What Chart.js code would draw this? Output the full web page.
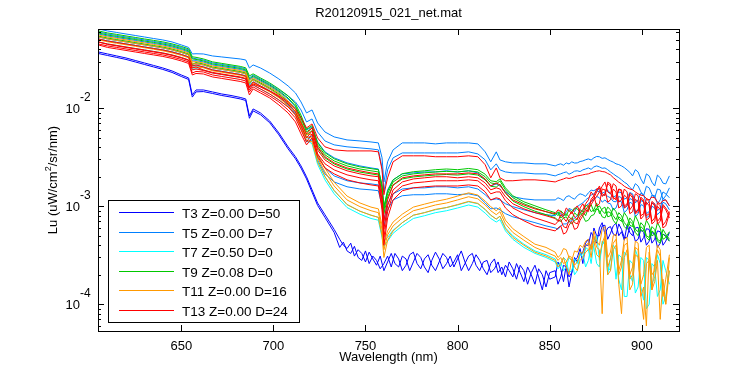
<!DOCTYPE html>
<html><head><meta charset="utf-8">
<script src="https://cdn.jsdelivr.net/npm/chart.js"></script>
<style>html,body{margin:0;padding:0;background:#fff;}canvas{display:block;}</style>
</head><body>
<canvas id="c" width="750" height="375"></canvas>
<script>
// radiance values are in units of 1e-5 uW/cm^2/sr/nm
const UNIT = 1e-5;
// wavelength grid (nm) shared by T5..T13 spectra
const WAVELENGTH = [605,610,615,620,625,630,635,640,645,650,
654,656,658,662,667,672,677,682,685,687,
689,693,698,703,708,712,715,718,721,724,
728,733,740,747,753,757,759,760,762,765,
770,776,782,788,794,800,806,811,815,818,
821,823,826,830,836,842,848,
853,854.5,856,857.5,859,860.5,862,863.5,865,866.5,
868,869.5,871,872.5,874,875.5,877,878.5,880,881.5,
883,884.5,886,887.5,889,890.5,892,893.5,895,896.5,
898,899.5,901,902.5,904,905.5,907,908.5,910,911.5,
913,915];
// wavelength grid (nm) for the noisier T3 spectra
const WAVELENGTH_T3 = [605,610,615,620,625,630,635,640,645,650,
654,656,658,662,667,672,677,682,685,687,
689,693,698,703,708,712,715,718,721,724,
728,733,
736,738,740,742,744,746,748,750,752,754,
756,758,760,762,764,766,768,770,772,774,
776,778,780,782,784,786,788,790,792,794,
796,798,800,802,804,806,808,810,812,814,
816,818,820,822,824,826,828,830,832,834,
836,838,840,842,844,846,848,850,
853,854.5,856,857.5,859,860.5,862,863.5,865,866.5,
868,869.5,871,872.5,874,875.5,877,878.5,880,881.5,
883,884.5,886,887.5,889,890.5,892,893.5,895,896.5,
898,899.5,901,902.5,904,905.5,907,908.5,910,911.5,
913,915];

const T3a = [3754,3582,3418,3261,3075,2900,2735,2578,2403,2187,
2038,1367,1537,1537,1467,1399,1350,1290,1245,835,
984,896,742,560,404,320,258,200,147,108,
82,58,
46,40,37,42,31,36,33,27,34,29,
25,31,22,27,33,26,24,31,29,22,
27,33,30,24,21,28,34,29,23,26,
31,24,29,35,27,22,26,32,28,23,
20,26,29,21,24,19,27,23,18,25,
22,16,21,25,19,14,22,18,
19,27,23,17,25,19,21,30,27,32,
34,42,46,37,60,50,50,63,64,46,
53,63,67,50,55,45,64,54,50,60,
61,43,48,59,58,42,46,56,55,40,
44,54];
const T3b = [3620,3455,3300,3150,2970,2800,2640,2490,2320,2110,
1965,1300,1470,1480,1415,1350,1300,1245,1200,790,
940,860,712,535,385,305,245,190,139,102,
77,54,
38,43,35,33,39,30,28,35,26,31,
28,23,26,31,24,33,29,22,25,32,
34,26,23,29,32,25,22,27,33,30,
24,27,32,22,26,31,33,25,22,27,
28,21,23,27,20,25,22,19,26,21,
17,24,20,16,23,20,15,21,
22,16,19,25,24,15,21,28,30,37,
26,40,40,54,48,42,60,68,52,60,
62,52,50,66,58,48,48,62,56,44,
46,58,54,40,44,54,52,38,42,52,
50,44];

const T5a = [6442,6150,5935,5728,5530,5340,5150,4977,4750,4430,
4175,3582,3600,3582,3418,3340,3261,3185,3111,2578,
2767,2578,2290,1990,1689,1433,1160,896,961,708,
573,510,475,464,453,443,312,177,284,376,
443,443,443,433,443,443,443,433,359,284,
359,297,284,277,277,271,271,
258,266,271,262,277,270,284,276,277,286,
290,298,304,296,312,322,320,308,312,300,
290,282,271,266,258,248,235,222,204,236,
224,190,169,214,204,176,161,208,195,172,
169,204];
const T5b = [6004,5728,5530,5340,5150,4977,4805,4640,4430,4175,
3936,3261,3200,3111,2900,2800,2702,2610,2518,2038,
2187,1990,1770,1537,1335,1160,961,725,778,573,
464,423,404,394,385,376,246,140,235,312,
350,350,350,350,350,350,359,342,297,235,
271,235,224,219,219,214,214,
204,210,214,220,224,212,219,228,230,226,
235,240,246,238,252,258,252,244,246,236,
224,214,204,196,186,176,169,156,147,170,
161,140,128,160,154,132,122,150,147,118,
128,154];
const T5c = [5728,5467,5275,5095,4920,4750,4585,4430,4220,3985,
3754,3040,3060,2968,2767,2670,2578,2490,2403,1945,
2087,1900,1689,1467,1245,1031,796,601,645,453,
359,312,277,258,246,240,161,96,147,186,
214,219,224,224,230,224,230,219,186,161,
169,161,140,125,119,116,116,
116,122,119,114,125,128,122,118,128,134,
131,126,137,146,144,150,147,136,140,146,
134,124,128,140,137,118,122,138,134,108,
116,136,131,104,111,130,128,106,116,140,
134,122];
const T5d = [5340,5095,4920,4750,4585,4430,4275,4124,3936,3710,
3500,2832,2850,2767,2578,2490,2403,2320,2239,1812,
1945,1770,1574,1367,1133,917,692,498,522,335,
246,204,182,173,169,165,116,73,106,134,
150,154,154,158,158,154,158,150,131,116,
119,116,106,99,92,86,82,
80,86,84,79,88,95,92,88,99,104,
108,116,122,130,134,144,140,128,134,126,
122,112,111,126,122,96,101,120,116,88,
92,114,111,84,88,108,106,90,96,120,
116,101];
const T5e = [5095,4860,4695,4531,4375,4220,4075,3936,3754,3540,
3340,2702,2720,2640,2460,2375,2290,2210,2136,1730,
1855,1689,1502,1305,1081,875,645,453,475,297,
214,177,158,150,147,144,101,63,92,116,
128,131,131,134,134,131,134,128,108,94,
96,92,84,78,73,68,63,
60,58,63,66,66,70,71,76,80,86,
92,100,106,112,116,126,122,110,116,108,
106,92,96,114,111,86,92,110,106,78,
84,104,101,76,80,100,96,82,88,110,
106,92];

const T7a = [5100,4870,4700,4535,4380,4230,4085,3940,3760,3545,
3345,2700,2720,2645,2465,2380,2295,2215,2140,1730,
1860,1690,1505,1305,1108,920,680,505,470,290,
200,144,104,89,81,77,52,44,48,57,
68,81,86,92,97,103,111,106,92,81,
74,79,60,50,41,35,32,
29,25,27,22,24,30,28,20,22,33,
30,38,36,26,42,50,28,40,46,24,
22,40,36,18,14,34,32,20,17,36,
30,15,11,30,28,16,19,32,26,10,
12,22];
const T7b = [4750,4530,4370,4220,4075,3935,3800,3665,3495,3295,
3110,2510,2530,2460,2290,2215,2135,2060,1990,1610,
1730,1570,1400,1215,1030,855,630,470,435,268,
186,134,97,83,75,72,48,39,44,53,
63,75,80,86,90,96,103,98,85,75,
69,73,56,46,38,33,30,
27,23,25,30,28,21,22,29,26,34,
33,24,28,40,38,26,24,44,40,20,
30,36,18,32,30,12,12,28,26,13,
15,30,28,9,10,26,24,12,14,28,
22,16];

const T9a = [6160,5875,5670,5475,5285,5100,4930,4760,4540,4280,
4040,3350,3310,3190,2975,2870,2770,2675,2585,2140,
2245,2040,1815,1575,1340,1110,850,610,665,445,
352,305,271,252,242,236,165,100,142,186,
215,225,230,236,240,236,243,236,212,182,
178,190,154,128,111,101,92,
86,80,90,84,80,92,88,96,94,86,
84,102,100,88,92,108,84,94,98,78,
80,96,88,74,70,86,78,64,62,80,
70,56,56,72,64,50,52,68,60,46,
48,55];
const T9b = [5865,5595,5400,5214,5035,4860,4695,4531,4324,4075,
3845,3185,3150,3040,2832,2735,2640,2548,2460,1990,
2136,1945,1730,1500,1274,1056,796,573,630,423,
335,290,258,240,230,224,154,92,134,177,
204,214,219,224,227,224,230,224,200,173,
169,181,147,122,106,96,88,
82,88,76,80,84,78,73,86,80,92,
88,80,96,104,88,96,101,90,84,98,
92,80,73,86,80,68,63,76,70,58,
55,68,63,50,48,62,58,46,44,58,
52,46];
const T9c = [5455,5205,5020,4850,4685,4520,4365,4215,4020,3790,
3575,2800,2930,2830,2635,2545,2455,2370,2290,1800,
1985,1810,1610,1395,1185,980,740,535,590,395,
312,270,240,223,214,208,140,84,124,164,
190,199,204,208,211,208,214,208,186,160,
157,168,136,113,99,89,82,
76,72,70,76,78,70,66,72,74,84,
80,70,72,80,82,94,90,78,76,88,
86,72,66,78,74,62,58,70,66,54,
50,62,58,48,45,56,53,44,42,52,
49,44];

const T11a = [5600,5340,5160,4980,4805,4645,4480,4320,4125,3890,
3670,2970,2990,2900,2700,2610,2520,2430,2345,1900,
2040,1855,1650,1435,1190,965,715,545,540,340,
245,176,127,108,98,94,64,41,56,69,
83,98,105,112,118,127,137,130,113,99,
90,97,72,59,49,41,38,
34,30,32,37,36,30,28,35,34,40,
38,44,46,36,56,44,40,58,62,30,
34,50,52,22,28,46,48,20,24,44,
42,16,20,38,40,14,26,40,36,12,
18,32];
const T11b = [5340,5095,4920,4750,4585,4430,4275,4124,3936,3710,
3500,2832,2850,2767,2578,2490,2403,2320,2239,1812,
1945,1770,1574,1367,1133,917,676,510,498,312,
224,161,116,99,90,86,58,36,51,63,
76,90,96,103,108,116,125,119,103,90,
82,88,66,54,45,38,34,
31,28,30,26,27,31,30,25,27,34,
33,40,42,30,50,38,36,8,55,24,
29,42,46,20,24,40,42,18,20,38,
36,12,15,6,34,20,22,36,31,14,
10,30];
const T11c = [5000,4770,4600,4445,4290,4145,4000,3860,3680,3470,
3275,2600,2640,2590,2410,2330,2250,2170,2095,1660,
1820,1655,1470,1280,1060,855,625,470,455,282,
201,145,104,89,81,77,50,30,45,56,
68,81,86,93,97,104,112,107,93,81,
74,79,59,48,40,34,31,
28,24,26,30,24,20,29,24,22,28,
30,34,36,40,44,32,30,42,50,20,
22,36,40,16,8,30,36,14,16,32,
30,12,7,26,28,14,17,28,7,18,
10,22];

const T13a = [4750,4531,4375,4220,4075,3936,3800,3668,3500,3300,
3111,2578,2640,2460,2320,2239,2160,2087,2015,1611,
1770,1650,1502,1335,1160,984,796,630,692,498,
404,376,367,367,367,359,235,131,195,284,
327,327,327,320,320,320,327,320,265,195,
246,195,182,182,186,186,182,
177,182,186,190,195,192,195,200,204,206,
209,212,214,220,224,228,230,226,224,216,
209,196,186,176,169,160,154,150,147,140,
134,130,128,120,116,124,122,110,106,114,
116,101];
const T13b = [5095,4860,4695,4531,4375,4220,4075,3936,3754,3540,
3340,2702,2767,2640,2460,2375,2290,2210,2136,1650,
1855,1689,1502,1305,1106,917,708,547,630,404,
320,277,246,230,219,214,131,70,116,165,
195,204,209,214,214,214,219,214,190,161,
173,165,137,116,103,94,88,
84,92,88,80,96,90,84,94,101,86,
92,106,116,140,128,150,154,126,134,170,
161,118,122,150,140,100,106,132,122,86,
92,120,111,80,84,108,101,70,76,104,
96,84];
const T13c = [4750,4480,4324,4175,4030,3890,3754,3625,3460,3261,
3075,2460,2518,2430,2290,2210,2136,2063,1990,1537,
1730,1574,1399,1215,1031,855,660,498,587,376,
297,258,230,214,204,200,116,58,101,147,
177,190,195,200,200,195,200,195,173,147,
154,150,125,106,94,86,80,
75,70,82,76,70,80,88,78,73,96,
106,92,88,118,128,100,106,150,147,110,
116,150,140,96,101,130,122,84,88,118,
111,74,80,110,101,66,70,100,92,60,
63,84];
const T13d = [4531,4324,4175,4030,3890,3754,3625,3500,3340,3150,
2968,2290,2375,2347,2187,2110,2038,1967,1900,1467,
1650,1502,1335,1160,961,796,601,453,547,342,
271,235,209,195,186,182,103,48,88,134,
161,173,177,182,182,182,186,182,158,134,
140,140,114,96,84,76,70,
65,70,73,62,60,72,76,68,66,78,
84,92,101,112,122,140,161,134,128,176,
169,124,116,150,147,96,101,136,128,84,
88,124,116,72,76,112,106,66,70,100,
92,76];
const T13e = [4430,4175,4030,3890,3754,3625,3500,3380,3225,3040,
2865,2187,2265,2239,2087,2015,1945,1878,1812,1367,
1574,1433,1274,1081,896,725,547,423,498,320,
246,214,186,173,165,161,92,40,76,116,
144,154,158,161,161,161,165,161,140,116,
122,119,96,82,71,63,59,
56,60,63,52,54,64,70,58,60,72,
80,88,92,104,116,126,140,160,177,140,
134,170,161,110,116,150,140,92,101,134,
128,80,84,120,111,70,76,108,101,64,
70,88];

const LEGEND_LABELS = ['T3 Z=0.00 D=50','T5 Z=0.00 D=7','T7 Z=0.50 D=0','T9 Z=0.08 D=0','T11 Z=0.00 D=16','T13 Z=0.00 D=24'];
const GROUPS = [[T3a,T3b],[T5a,T5b,T5c,T5d,T5e],[T7a,T7b],[T9a,T9b,T9c],[T11a,T11b,T11c],[T13a,T13b,T13c,T13d,T13e]];
const GROUP_WAVELENGTHS = [WAVELENGTH_T3, WAVELENGTH, WAVELENGTH, WAVELENGTH, WAVELENGTH, WAVELENGTH];
const X_TICKS = [650,700,750,800,850,900];
const Y_DECADES = [-4,-3,-2];
const TITLE = 'R20120915_021_net.mat';
const X_TITLE = 'Wavelength (nm)';
const Y_TITLE_PARTS = ['Lu (uW/cm','2','/sr/nm)'];

const COLORS = ['#0000ff','#0080ff','#00ffff','#00c800','#ff9900','#ff0000'];
const FONT = '"Liberation Sans", Arial, Helvetica, sans-serif';

const datasets = [];
GROUPS.forEach((lines, g) => lines.forEach(vals => datasets.push({
  label: LEGEND_LABELS[g],
  data: vals.map((v, i) => ({x: GROUP_WAVELENGTHS[g][i], y: v * UNIT})),
  borderColor: COLORS[g], backgroundColor: COLORS[g],
  borderWidth: 1, pointRadius: 0, fill: false, tension: 0,
  order: GROUPS.length - g
})));

const deco = {
  id: 'deco',
  afterDraw(chart) {
    const {ctx, chartArea: a, scales: {x, y}} = chart;
    ctx.save();
    ctx.strokeStyle = '#000'; ctx.fillStyle = '#000'; ctx.lineWidth = 1;
    X_TICKS.forEach(t => {
      const px = Math.round(x.getPixelForValue(t)) + 0.5;
      ctx.beginPath();
      ctx.moveTo(px, a.bottom); ctx.lineTo(px, a.bottom - 6);
      ctx.moveTo(px, a.top); ctx.lineTo(px, a.top + 6);
      ctx.stroke();
    });
    for (let d = -5; d <= -1; d++) {
      for (let m = 1; m <= 9; m++) {
        const v = m * Math.pow(10, d);
        if (v < y.min || v > y.max) continue;
        const py = Math.round(y.getPixelForValue(v)) + 0.5;
        const len = m === 1 ? 6 : 3;
        ctx.beginPath();
        ctx.moveTo(a.left, py); ctx.lineTo(a.left + len, py);
        ctx.moveTo(a.right, py); ctx.lineTo(a.right - len, py);
        ctx.stroke();
      }
    }
    ctx.strokeRect(a.left + 0.5, a.top + 0.5, a.right - a.left, a.bottom - a.top);
    ctx.font = '13px ' + FONT;
    ctx.textAlign = 'center'; ctx.textBaseline = 'alphabetic';
    X_TICKS.forEach(t => ctx.fillText(String(t), x.getPixelForValue(t), a.bottom + 18.5));
    Y_DECADES.forEach(d => {
      const py = y.getPixelForValue(Math.pow(10, d));
      ctx.font = '13px ' + FONT; ctx.textAlign = 'right';
      ctx.fillText('10', 80, py + 5);
      ctx.font = '12px ' + FONT; ctx.textAlign = 'left';
      ctx.fillText(String(d), 80, py - 7);
    });
    ctx.font = '13px ' + FONT; ctx.textAlign = 'center';
    ctx.fillText(TITLE, (a.left + a.right) / 2, 17);
    ctx.fillText(X_TITLE, (a.left + a.right) / 2, 361);
    ctx.save();
    ctx.translate(57, (a.top + a.bottom) / 2);
    ctx.rotate(-Math.PI / 2);
    ctx.textAlign = 'left';
    ctx.font = '13px ' + FONT;
    const w1 = ctx.measureText(Y_TITLE_PARTS[0]).width;
    const w3 = ctx.measureText(Y_TITLE_PARTS[2]).width;
    ctx.font = '9px ' + FONT;
    const w2 = ctx.measureText(Y_TITLE_PARTS[1]).width;
    let sx = -(w1 + w2 + w3) / 2;
    ctx.font = '13px ' + FONT; ctx.fillText(Y_TITLE_PARTS[0], sx, 0); sx += w1;
    ctx.font = '9px ' + FONT; ctx.fillText(Y_TITLE_PARTS[1], sx, -6); sx += w2;
    ctx.font = '13px ' + FONT; ctx.fillText(Y_TITLE_PARTS[2], sx, 0);
    ctx.restore();
    const lx = 108, ly = 200, lw = 191, lh = 122;
    ctx.fillStyle = '#fff';
    ctx.fillRect(lx, ly, lw, lh);
    ctx.strokeStyle = '#000';
    ctx.strokeRect(lx + 0.5, ly + 0.5, lw, lh);
    ctx.font = '13.5px ' + FONT; ctx.textAlign = 'left';
    LEGEND_LABELS.forEach((lab, i) => {
      const ry = Math.round(212.3 + i * 19.5) + 0.5;
      ctx.strokeStyle = COLORS[i];
      ctx.beginPath(); ctx.moveTo(119, ry); ctx.lineTo(174, ry); ctx.stroke();
      ctx.fillStyle = '#000';
      ctx.fillText(lab, 182, ry + 5);
    });
    ctx.restore();
  }
};

new Chart(document.getElementById('c'), {
  type: 'line',
  data: {datasets},
  options: {
    responsive: false, animation: false, devicePixelRatio: 1, events: [],
    layout: {padding: {left: 98, right: 71, top: 29, bottom: 44}},
    plugins: {legend: {display: false}, tooltip: {enabled: false}, title: {display: false}},
    scales: {
      x: {type: 'linear', min: 604.8, max: 920.2, display: false},
      y: {type: 'logarithmic', min: 5.33e-5, max: 0.0644, display: false}
    }
  },
  plugins: [deco]
});
</script>
</body></html>
